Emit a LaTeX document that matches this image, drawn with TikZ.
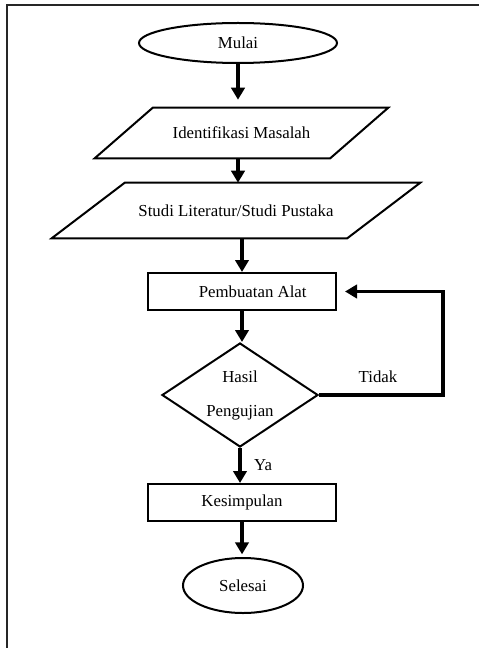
\documentclass[tikz,border=0pt]{standalone}
\usepackage{fontspec}
\setmainfont{Liberation Serif}
\usetikzlibrary{shapes.geometric, calc, arrows.meta}

\newcommand{\pxu}{0.75pt}
\tikzset{
	terminal/.style={ellipse, draw, line width=1.5pt},
	process/.style={rectangle, draw, line width=1.5pt, minimum width=188*\pxu, minimum height=37*\pxu},
	iotext/.style={inner sep=0pt, minimum width=#1*\pxu},
	iobox/.style={line width=1.5pt},
	decision/.style={diamond, draw, line width=1.5pt, align=center, inner sep=0pt, shape aspect=1.5, minimum width=156*\pxu, minimum height=104*\pxu},
	flow/.style={line width=2.6pt, -{Triangle[width=10pt, length=9pt]}},
	frameline/.style={line width=1.6pt, black!85}
}

\begin{document}
\begin{tikzpicture}[x=\pxu, y=-\pxu, font=\fontsize{12.6}{15}\selectfont]
			\useasboundingbox (0,0) rectangle (479,648);
			\draw[frameline] (7,648) -- (7,5) -- (479,5);
			
			\node[terminal, minimum width=198*\pxu, minimum height=40*\pxu] (mulai) at (238,43) {Mulai};
			
			\node[iotext=235, minimum height=50*\pxu] (idm) at (241.5,133) {Identifikasi Masalah};
			\draw[iobox] ($(idm.north west)+(29,0)$) -- ($(idm.north east)+(29,0)$) -- ($(idm.south east)+(-29,0)$) -- ($(idm.south west)+(-29,0)$) -- cycle;
			
			\node[iotext=295, minimum height=55*\pxu] (studi) at (236,210.5) {Studi Literatur/Studi Pustaka};
			\draw[iobox] ($(studi.north west)+(36.5,0)$) -- ($(studi.north east)+(36.5,0)$) -- ($(studi.south east)+(-36.5,0)$) -- ($(studi.south west)+(-36.5,0)$) -- cycle;
			
			\node[process] (alat) at (242,291.5) {\hspace{16pt}Pembuatan Alat};
			\node[decision] (uji) at (240,395) {Hasil\\[10.5pt]Pengujian};
			\node[process] (kes) at (242,502.5) {Kesimpulan};
			\node[terminal, minimum width=120*\pxu, minimum height=55*\pxu] (selesai) at (243,585.5) {Selesai};
			
			\draw[flow, shorten >=6pt] (mulai.south) -- (mulai.south |- idm.north);
			\draw[flow] (idm.south -| mulai.south) -- (mulai.south |- studi.north);
			\draw[flow] (studi.south -| alat.north) -- (alat.north);
			\draw[flow] (alat.south) -- (alat.south |- uji.north);
			\draw[flow] (uji.south) -- (uji.south |- kes.north);
			\draw[flow, shorten >=2pt] (kes.south) -- (kes.south |- selesai.north);
			
			\coordinate (balik) at (443,395);
			\draw[flow, shorten >=6pt] (uji.east) -- (balik) |- (alat.east);
			
			\node (tidak) at (378,377) {Tidak};
			\node (ya) at (263,465) {Ya};
		\end{tikzpicture}
\end{document}
